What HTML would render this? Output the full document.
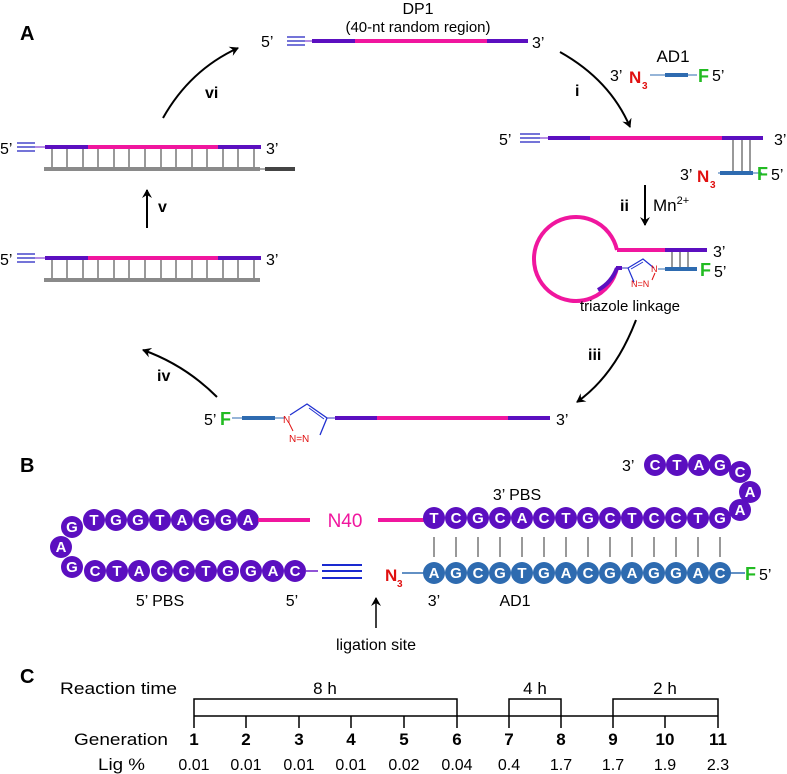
<!DOCTYPE html>
<html><head><meta charset="utf-8"><style>
html,body{margin:0;padding:0;background:#fff}
svg{display:block;font-family:"Liberation Sans",Arial,sans-serif}
.cb{font-weight:bold;fill:#fff;font-size:15px;text-anchor:middle}
</style></head><body>
<svg width="787" height="774" viewBox="0 0 787 774" xmlns="http://www.w3.org/2000/svg">
<defs>
<marker id="ah" markerWidth="10" markerHeight="10" refX="8" refY="5" orient="auto" markerUnits="userSpaceOnUse">
<path d="M0,0 L9,5 L0,10 L3,5 Z" fill="#000"/></marker>
</defs>
<text x="20" y="40" font-size="20" font-weight="bold">A</text>
<text x="20" y="472" font-size="20" font-weight="bold">B</text>
<text x="20" y="683" font-size="20" font-weight="bold">C</text>

<text x="418" y="14" font-size="16" text-anchor="middle">DP1</text>
<text x="418" y="32" font-size="15" text-anchor="middle">(40-nt random region)</text>
<text x="261" y="47" font-size="16">5’</text>
<g stroke="#2020c0" stroke-width="1.3"><line x1="287" y1="37" x2="305" y2="37"/><line x1="287" y1="41" x2="305" y2="41"/><line x1="287" y1="45" x2="305" y2="45"/></g>
<line x1="305" y1="41" x2="312" y2="41" stroke="#6a1bc8" stroke-width="1"/>
<line x1="312" y1="41" x2="355" y2="41" stroke="#5b0fc0" stroke-width="4"/>
<line x1="355" y1="41" x2="487" y2="41" stroke="#f0169e" stroke-width="4"/>
<line x1="487" y1="41" x2="528" y2="41" stroke="#5b0fc0" stroke-width="4"/>
<text x="532" y="48" font-size="16">3’</text>

<path d="M163,118 Q190,70 238,48" fill="none" stroke="#000" stroke-width="2" marker-end="url(#ah)"/>
<text x="205" y="98" font-size="16" font-weight="bold">vi</text>
<path d="M560,52 Q610,80 630,127" fill="none" stroke="#000" stroke-width="2" marker-end="url(#ah)"/>
<text x="575" y="96" font-size="16" font-weight="bold">i</text>

<text x="673" y="62" font-size="17" text-anchor="middle">AD1</text>
<text x="610" y="81" font-size="16">3’</text>
<text x="629" y="83" font-size="17" font-weight="bold" fill="#e01010">N</text>
<text x="642" y="89" font-size="10" font-weight="bold" fill="#e01010">3</text>
<line x1="650" y1="75" x2="697" y2="75" stroke="#2e6bb0" stroke-width="1"/>
<line x1="665" y1="75" x2="688" y2="75" stroke="#2e6bb0" stroke-width="4"/>
<text x="698" y="82" font-size="18" font-weight="bold" fill="#22bb22">F</text>
<text x="712" y="81" font-size="16">5’</text>

<text x="499" y="145" font-size="16">5’</text>
<g stroke="#2020c0" stroke-width="1.3"><line x1="520" y1="134" x2="540" y2="134"/><line x1="520" y1="138" x2="540" y2="138"/><line x1="520" y1="142" x2="540" y2="142"/></g>
<line x1="540" y1="138" x2="548" y2="138" stroke="#6a1bc8" stroke-width="1"/>
<line x1="548" y1="138" x2="590" y2="138" stroke="#5b0fc0" stroke-width="4"/>
<line x1="590" y1="138" x2="722" y2="138" stroke="#f0169e" stroke-width="4"/>
<line x1="722" y1="138" x2="763" y2="138" stroke="#5b0fc0" stroke-width="4"/>
<text x="774" y="145" font-size="16">3’</text>
<g stroke="#999" stroke-width="2"><line x1="733" y1="140" x2="733" y2="172"/><line x1="742" y1="140" x2="742" y2="172"/><line x1="750" y1="140" x2="750" y2="172"/></g>
<text x="680" y="180" font-size="16">3’</text>
<text x="697" y="182" font-size="17" font-weight="bold" fill="#e01010">N</text>
<text x="710" y="188" font-size="10" font-weight="bold" fill="#e01010">3</text>
<line x1="718" y1="173" x2="762" y2="173" stroke="#2e6bb0" stroke-width="1"/>
<line x1="720" y1="173" x2="753" y2="173" stroke="#2e6bb0" stroke-width="4"/>
<text x="757" y="180" font-size="18" font-weight="bold" fill="#22bb22">F</text>
<text x="771" y="180" font-size="16">5’</text>

<line x1="645" y1="185" x2="645" y2="225" stroke="#000" stroke-width="2" marker-end="url(#ah)"/>
<text x="620" y="211" font-size="16" font-weight="bold">ii</text>
<text x="653" y="211" font-size="17">Mn<tspan font-size="11" dy="-7">2+</tspan></text>

<path d="M617,250 A42,42 0 1 0 617,268" fill="none" stroke="#f0169e" stroke-width="4"/>
<path d="M598,290 A42,42 0 0 0 617,268" fill="none" stroke="#5b0fc0" stroke-width="4"/>
<line x1="616" y1="268" x2="622" y2="268" stroke="#5b0fc0" stroke-width="4"/>
<line x1="617" y1="250" x2="665" y2="250" stroke="#f0169e" stroke-width="4"/>
<line x1="665" y1="250" x2="707" y2="250" stroke="#5b0fc0" stroke-width="4"/>
<text x="713" y="257" font-size="16">3’</text>
<g stroke="#999" stroke-width="2"><line x1="672" y1="252" x2="672" y2="267"/><line x1="680" y1="252" x2="680" y2="267"/><line x1="688" y1="252" x2="688" y2="267"/></g>
<line x1="622" y1="268" x2="628" y2="268" stroke="#3030c0" stroke-width="1"/>
<path d="M628,268 L643,259 L654,268" fill="none" stroke="#2030d0" stroke-width="1.2"/>
<line x1="631" y1="269" x2="643" y2="262" stroke="#2030d0" stroke-width="1"/>
<path d="M628,268 L634,282" fill="none" stroke="#2030d0" stroke-width="1.2"/>
<text x="651" y="272" font-size="9" fill="#e01010">N</text>
<text x="631" y="287" font-size="9" fill="#e01010">N=N</text>
<line x1="655" y1="273" x2="652" y2="280" stroke="#e01010" stroke-width="1"/>
<line x1="658" y1="269" x2="665" y2="269" stroke="#2e6bb0" stroke-width="1"/>
<line x1="665" y1="269" x2="697" y2="269" stroke="#2e6bb0" stroke-width="4"/>
<text x="700" y="276" font-size="18" font-weight="bold" fill="#22bb22">F</text>
<text x="714" y="277" font-size="16">5’</text>
<text x="630" y="311" font-size="15" text-anchor="middle">triazole linkage</text>

<path d="M636,320 Q615,375 577,402" fill="none" stroke="#000" stroke-width="2" marker-end="url(#ah)"/>
<text x="588" y="360" font-size="16" font-weight="bold">iii</text>

<text x="204" y="425" font-size="16">5’</text>
<text x="220" y="425" font-size="18" font-weight="bold" fill="#22bb22">F</text>
<line x1="232" y1="418" x2="285" y2="418" stroke="#2e6bb0" stroke-width="1"/>
<line x1="242" y1="418" x2="275" y2="418" stroke="#2e6bb0" stroke-width="4"/>
<text x="283" y="423" font-size="10" fill="#e01010">N</text>
<path d="M290,415 L307,404 L327,418 L320,435" fill="none" stroke="#2030d0" stroke-width="1.3"/>
<line x1="309" y1="408" x2="324" y2="419" stroke="#2030d0" stroke-width="1"/>
<line x1="289" y1="423" x2="293" y2="431" stroke="#e01010" stroke-width="1"/>
<text x="289" y="442" font-size="10" fill="#e01010">N=N</text>
<line x1="327" y1="418" x2="335" y2="418" stroke="#3030c0" stroke-width="1"/>
<line x1="335" y1="418" x2="377" y2="418" stroke="#5b0fc0" stroke-width="4"/>
<line x1="377" y1="418" x2="508" y2="418" stroke="#f0169e" stroke-width="4"/>
<line x1="508" y1="418" x2="550" y2="418" stroke="#5b0fc0" stroke-width="4"/>
<text x="556" y="425" font-size="16">3’</text>

<path d="M217,397 Q185,365 143,350" fill="none" stroke="#000" stroke-width="2" marker-end="url(#ah)"/>
<text x="157" y="381" font-size="16" font-weight="bold">iv</text>

<g id="dup">
<text x="0" y="154" font-size="16">5’</text>
<g stroke="#2020c0" stroke-width="1.3"><line x1="17" y1="143" x2="35" y2="143"/><line x1="17" y1="147" x2="35" y2="147"/><line x1="17" y1="151" x2="35" y2="151"/></g>
<line x1="35" y1="147" x2="45" y2="147" stroke="#6a1bc8" stroke-width="1"/>
<line x1="45" y1="147" x2="88" y2="147" stroke="#5b0fc0" stroke-width="4"/>
<line x1="88" y1="147" x2="218" y2="147" stroke="#f0169e" stroke-width="4"/>
<line x1="218" y1="147" x2="261" y2="147" stroke="#5b0fc0" stroke-width="4"/>
<text x="266" y="154" font-size="16">3’</text>
<line x1="44" y1="169" x2="260" y2="169" stroke="#8a8a8a" stroke-width="4"/>
<g stroke="#999" stroke-width="2">
<line x1="52" y1="149" x2="52" y2="167"/><line x1="67" y1="149" x2="67" y2="167"/><line x1="83" y1="149" x2="83" y2="167"/><line x1="98" y1="149" x2="98" y2="167"/><line x1="114" y1="149" x2="114" y2="167"/><line x1="129" y1="149" x2="129" y2="167"/><line x1="145" y1="149" x2="145" y2="167"/><line x1="161" y1="149" x2="161" y2="167"/><line x1="176" y1="149" x2="176" y2="167"/><line x1="192" y1="149" x2="192" y2="167"/><line x1="207" y1="149" x2="207" y2="167"/><line x1="223" y1="149" x2="223" y2="167"/><line x1="238" y1="149" x2="238" y2="167"/><line x1="254" y1="149" x2="254" y2="167"/>
</g>
</g>
<line x1="260" y1="169" x2="265" y2="169" stroke="#555" stroke-width="1"/>
<line x1="265" y1="169" x2="295" y2="169" stroke="#444" stroke-width="4"/>
<use href="#dup" y="111"/>
<line x1="147" y1="228" x2="147" y2="190" stroke="#000" stroke-width="2" marker-end="url(#ah)"/>
<text x="158" y="212" font-size="16" font-weight="bold">v</text>

<g fill="#5b0fc0">
<circle cx="72" cy="527" r="11"/><circle cx="61" cy="547" r="11"/><circle cx="72" cy="567" r="11"/>
<circle cx="94" cy="520" r="11"/><circle cx="116" cy="520" r="11"/><circle cx="138" cy="520" r="11"/><circle cx="160" cy="520" r="11"/><circle cx="182" cy="520" r="11"/><circle cx="204" cy="520" r="11"/><circle cx="226" cy="520" r="11"/><circle cx="248" cy="520" r="11"/>
<circle cx="95" cy="571" r="11"/><circle cx="117" cy="571" r="11"/><circle cx="139" cy="571" r="11"/><circle cx="162" cy="571" r="11"/><circle cx="184" cy="571" r="11"/><circle cx="206" cy="571" r="11"/><circle cx="228" cy="571" r="11"/><circle cx="251" cy="571" r="11"/><circle cx="273" cy="571" r="11"/><circle cx="295" cy="571" r="11"/>
</g>
<g class="cb">
<text x="72" y="532">G</text><text x="61" y="552">A</text><text x="72" y="572">G</text>
<text x="94" y="525">T</text><text x="116" y="525">G</text><text x="138" y="525">G</text><text x="160" y="525">T</text><text x="182" y="525">A</text><text x="204" y="525">G</text><text x="226" y="525">G</text><text x="248" y="525">A</text>
<text x="95" y="576">C</text><text x="117" y="576">T</text><text x="139" y="576">A</text><text x="162" y="576">C</text><text x="184" y="576">C</text><text x="206" y="576">T</text><text x="228" y="576">G</text><text x="251" y="576">G</text><text x="273" y="576">A</text><text x="295" y="576">C</text>
</g>
<line x1="258" y1="520" x2="310" y2="520" stroke="#f0169e" stroke-width="4"/>
<text x="345" y="527" font-size="19" fill="#f0169e" text-anchor="middle">N40</text>
<line x1="378" y1="520" x2="424" y2="520" stroke="#f0169e" stroke-width="4"/>
<line x1="305" y1="571" x2="318" y2="571" stroke="#6a1bc8" stroke-width="1.5"/>
<g stroke="#1a2ad0" stroke-width="2"><line x1="322" y1="565" x2="362" y2="565"/><line x1="322" y1="571" x2="362" y2="571"/><line x1="322" y1="578" x2="362" y2="578"/></g>
<text x="160" y="606" font-size="16" text-anchor="middle">5’ PBS</text>
<text x="292" y="606" font-size="16" text-anchor="middle">5’</text>
<text x="385" y="581" font-size="17" font-weight="bold" fill="#e01010">N</text>
<text x="397" y="587" font-size="10" font-weight="bold" fill="#e01010">3</text>
<line x1="402" y1="573" x2="424" y2="573" stroke="#2e6bb0" stroke-width="1.5"/>

<g fill="#5b0fc0">
<circle cx="434" cy="518" r="11"/><circle cx="456" cy="518" r="11"/><circle cx="478" cy="518" r="11"/><circle cx="500" cy="518" r="11"/><circle cx="522" cy="518" r="11"/><circle cx="544" cy="518" r="11"/><circle cx="566" cy="518" r="11"/><circle cx="588" cy="518" r="11"/><circle cx="610" cy="518" r="11"/><circle cx="632" cy="518" r="11"/><circle cx="654" cy="518" r="11"/><circle cx="676" cy="518" r="11"/><circle cx="698" cy="518" r="11"/><circle cx="720" cy="518" r="11"/>
<circle cx="740" cy="510" r="11"/><circle cx="750" cy="492" r="11"/><circle cx="740" cy="472" r="11"/>
<circle cx="655" cy="465" r="11"/><circle cx="677" cy="465" r="11"/><circle cx="699" cy="465" r="11"/><circle cx="720" cy="465" r="11"/>
</g>
<g class="cb">
<text x="434" y="523">T</text><text x="456" y="523">C</text><text x="478" y="523">G</text><text x="500" y="523">C</text><text x="522" y="523">A</text><text x="544" y="523">C</text><text x="566" y="523">T</text><text x="588" y="523">G</text><text x="610" y="523">C</text><text x="632" y="523">T</text><text x="654" y="523">C</text><text x="676" y="523">C</text><text x="698" y="523">T</text><text x="720" y="523">G</text>
<text x="740" y="515">A</text><text x="750" y="497">A</text><text x="740" y="477">C</text>
<text x="655" y="470">C</text><text x="677" y="470">T</text><text x="699" y="470">A</text><text x="720" y="470">G</text>
</g>
<text x="622" y="471" font-size="16">3’</text>
<text x="517" y="500" font-size="16" text-anchor="middle">3’ PBS</text>
<g stroke="#999" stroke-width="2">
<line x1="434" y1="537" x2="434" y2="557"/><line x1="456" y1="537" x2="456" y2="557"/><line x1="478" y1="537" x2="478" y2="557"/><line x1="500" y1="537" x2="500" y2="557"/><line x1="522" y1="537" x2="522" y2="557"/><line x1="544" y1="537" x2="544" y2="557"/><line x1="566" y1="537" x2="566" y2="557"/><line x1="588" y1="537" x2="588" y2="557"/><line x1="610" y1="537" x2="610" y2="557"/><line x1="632" y1="537" x2="632" y2="557"/><line x1="654" y1="537" x2="654" y2="557"/><line x1="676" y1="537" x2="676" y2="557"/><line x1="698" y1="537" x2="698" y2="557"/><line x1="720" y1="537" x2="720" y2="557"/>
</g>
<g fill="#2e6bb0">
<circle cx="434" cy="573" r="11"/><circle cx="456" cy="573" r="11"/><circle cx="478" cy="573" r="11"/><circle cx="500" cy="573" r="11"/><circle cx="522" cy="573" r="11"/><circle cx="544" cy="573" r="11"/><circle cx="566" cy="573" r="11"/><circle cx="588" cy="573" r="11"/><circle cx="610" cy="573" r="11"/><circle cx="632" cy="573" r="11"/><circle cx="654" cy="573" r="11"/><circle cx="676" cy="573" r="11"/><circle cx="698" cy="573" r="11"/><circle cx="720" cy="573" r="11"/>
</g>
<g class="cb">
<text x="434" y="578">A</text><text x="456" y="578">G</text><text x="478" y="578">C</text><text x="500" y="578">G</text><text x="522" y="578">T</text><text x="544" y="578">G</text><text x="566" y="578">A</text><text x="588" y="578">C</text><text x="610" y="578">G</text><text x="632" y="578">A</text><text x="654" y="578">G</text><text x="676" y="578">G</text><text x="698" y="578">A</text><text x="720" y="578">C</text>
</g>
<line x1="730" y1="573" x2="745" y2="573" stroke="#2e6bb0" stroke-width="1.5"/>
<text x="745" y="580" font-size="18" font-weight="bold" fill="#22bb22">F</text>
<text x="759" y="580" font-size="16">5’</text>
<text x="434" y="606" font-size="16" text-anchor="middle">3’</text>
<text x="515" y="606" font-size="16" text-anchor="middle">AD1</text>
<line x1="376" y1="628" x2="376" y2="598" stroke="#000" stroke-width="1.5" marker-end="url(#ah)"/>
<text x="376" y="650" font-size="16" text-anchor="middle">ligation site</text>

<text x="60" y="694" font-size="17" textLength="117" lengthAdjust="spacingAndGlyphs">Reaction time</text>
<text x="325" y="694" font-size="17" text-anchor="middle">8 h</text>
<text x="535" y="694" font-size="17" text-anchor="middle">4 h</text>
<text x="665" y="694" font-size="17" text-anchor="middle">2 h</text>
<g fill="none" stroke="#000" stroke-width="1.5">
<path d="M194,716 V699 H457 V716"/><path d="M509,716 V699 H561 V716"/><path d="M613,716 V699 H718 V716"/>
<line x1="194" y1="716" x2="718" y2="716"/>
<path d="M194,716V728M246,716V728M299,716V728M351,716V728M404,716V728M457,716V728M509,716V728M561,716V728M613,716V728M665,716V728M718,716V728"/>
</g>
<text x="74" y="745" font-size="17" textLength="94" lengthAdjust="spacingAndGlyphs">Generation</text>
<g font-size="17" font-weight="bold" text-anchor="middle">
<text x="194" y="745">1</text><text x="246" y="745">2</text><text x="299" y="745">3</text><text x="351" y="745">4</text><text x="404" y="745">5</text><text x="457" y="745">6</text><text x="509" y="745">7</text><text x="561" y="745">8</text><text x="613" y="745">9</text><text x="665" y="745">10</text><text x="718" y="745">11</text>
</g>
<text x="98" y="770" font-size="17" textLength="47" lengthAdjust="spacingAndGlyphs">Lig %</text>
<g font-size="16" text-anchor="middle">
<text x="194" y="770">0.01</text><text x="246" y="770">0.01</text><text x="299" y="770">0.01</text><text x="351" y="770">0.01</text><text x="404" y="770">0.02</text><text x="457" y="770">0.04</text><text x="509" y="770">0.4</text><text x="561" y="770">1.7</text><text x="613" y="770">1.7</text><text x="665" y="770">1.9</text><text x="718" y="770">2.3</text>
</g>
</svg>
</body></html>
